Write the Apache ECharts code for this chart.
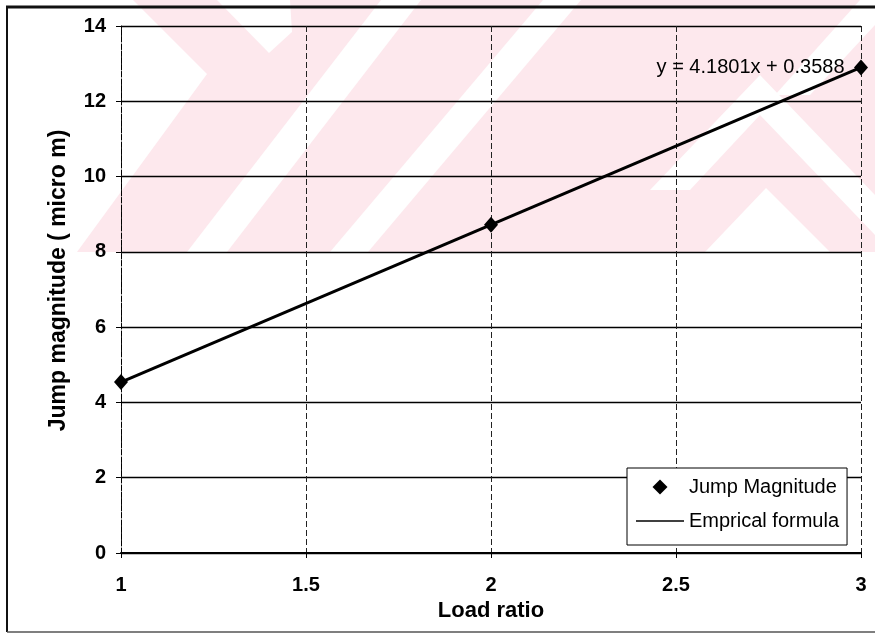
<!DOCTYPE html>
<html>
<head>
<meta charset="utf-8">
<title>Jump magnitude vs load ratio</title>
<script src="https://cdn.jsdelivr.net/npm/echarts@6/dist/echarts.min.js"></script>
<style>
  html, body { margin: 0; padding: 0; background: #ffffff; }
  #chart { width: 875px; height: 634px; }
</style>
</head>
<body>
<div id="chart"></div>
<script>
// Measured jump magnitude at each load ratio
const loadRatio = [1, 2, 3];
const jumpMagnitude = [4.54, 8.72, 12.9];

// End points of the empirical (linear fit) line
const fitX = [1, 3];
const fitY = [4.5389, 12.8991];
const fitLabel = 'y = 4.1801x + 0.3588';

// Axis ranges and tick steps
const xRange = [1, 3];
const xStep = 0.5;
const yRange = [0, 14];
const yStep = 2;

const seriesNames = ['Jump Magnitude', 'Emprical formula'];
const xTitle = 'Load ratio';
const yTitle = 'Jump magnitude ( micro m)';

const font = 'Arial, "Liberation Sans", Helvetica, sans-serif';
const ink = '#000000';
const pink = 'rgb(253,232,237)';

// background watermark pattern (pink field with white diagonal bands)
const wmPink = [[133,0],[875,0],[875,252],[77,252],[207,74]];
const wmWhite = [
  [[217,0],[290,0],[292,32],[269,53]],
  [[187,252],[227,252],[421,0],[381,0]],
  [[330,252],[368,252],[581,0],[543,0]],
  [[650,190],[760,75],[875,195],[875,235],[760,115],[690,190]],
  [[705,252],[766,188],[830,252]],
  [[775,95],[810,95],[875,25],[875,0],[860,0]]
];

const graphics = [
  { type: 'polygon', z: -10, silent: true, shape: { points: wmPink }, style: { fill: pink } }
].concat(wmWhite.map(p => ({
  type: 'polygon', z: -9, silent: true, shape: { points: p }, style: { fill: '#ffffff' }
}))).concat([
  // outer frame
  { type: 'line', z: 5, silent: true, shape: { x1: 6, y1: 7, x2: 875, y2: 7 }, style: { stroke: '#111', lineWidth: 3 } },
  { type: 'line', z: 5, silent: true, shape: { x1: 7, y1: 6, x2: 7, y2: 632 }, style: { stroke: '#111', lineWidth: 2 } },
  { type: 'line', z: 5, silent: true, shape: { x1: 7, y1: 632, x2: 875, y2: 632 }, style: { stroke: '#555', lineWidth: 1.5 } }
]);

// legend glyphs: a square-aspect diamond and a thin horizontal stroke
const diamondIcon = 'path://M0,-1L1,0L0,1L-1,0Z';
const strokeIcon = 'path://M0,0L48,0L48,1.6L0,1.6Z';

const chart = echarts.init(document.getElementById('chart'), null, { renderer: 'canvas' });

chart.setOption({
  backgroundColor: '#ffffff',
  animation: false,
  textStyle: { fontFamily: font, color: ink },
  graphic: graphics,
  grid: { left: 121, right: 14, top: 26, bottom: 81, containLabel: false },
  legend: {
    data: [
      { name: seriesNames[0], icon: diamondIcon },
      { name: seriesNames[1], icon: strokeIcon }
    ],
    orient: 'vertical',
    left: 627,
    top: 468,
    padding: [9, 8, 14, 9],
    itemGap: 14,
    itemWidth: 48,
    itemHeight: 15,
    symbolKeepAspect: true,
    backgroundColor: '#ffffff',
    borderColor: ink,
    borderWidth: 1,
    borderRadius: 0,
    itemStyle: { color: ink, borderWidth: 0, opacity: 1 },
    textStyle: { fontFamily: font, fontSize: 20, color: ink }
  },
  xAxis: {
    type: 'value',
    min: xRange[0],
    max: xRange[1],
    interval: xStep,
    name: xTitle,
    nameLocation: 'middle',
    nameGap: 46,
    nameTextStyle: { fontFamily: font, fontSize: 22, fontWeight: 'bold', color: ink },
    axisLine: { show: true, onZero: false, lineStyle: { color: ink, width: 2 } },
    axisTick: { show: true, length: 5, lineStyle: { color: ink, width: 1 } },
    axisLabel: { margin: 22, fontFamily: font, fontSize: 20, fontWeight: 'bold', color: ink },
    splitLine: { show: true, lineStyle: { color: '#222', width: 1, type: [6, 3] } }
  },
  yAxis: {
    type: 'value',
    min: yRange[0],
    max: yRange[1],
    interval: yStep,
    name: yTitle,
    nameLocation: 'middle',
    nameRotate: 90,
    nameGap: 51,
    nameTextStyle: { fontFamily: font, fontSize: 23, fontWeight: 'bold', color: ink, padding: [0, 0, 0, 18] },
    axisLine: { show: true, onZero: false, lineStyle: { color: ink, width: 1, type: [5, 2] } },
    axisTick: { show: true, length: 5, lineStyle: { color: ink, width: 1 } },
    axisLabel: { margin: 15, fontFamily: font, fontSize: 20, fontWeight: 'bold', color: ink },
    splitLine: { show: true, lineStyle: { color: ink, width: 1.3, type: 'solid' } }
  },
  series: [
    {
      name: seriesNames[0],
      type: 'scatter',
      z: 4,
      symbol: 'diamond',
      symbolSize: [14, 16],
      itemStyle: { color: ink, opacity: 1 },
      data: loadRatio.map((x, i) => [x, jumpMagnitude[i]])
    },
    {
      name: seriesNames[1],
      type: 'line',
      z: 3,
      symbol: 'none',
      lineStyle: { color: ink, width: 3 },
      itemStyle: { color: ink },
      data: fitX.map((x, i) => [x, fitY[i]]),
      markPoint: {
        symbol: 'circle',
        symbolSize: 1,
        itemStyle: { color: 'rgba(0,0,0,0)' },
        label: {
          show: true,
          position: 'left',
          distance: 16,
          formatter: fitLabel,
          fontFamily: font,
          fontSize: 20,
          color: ink
        },
        data: [{ coord: [fitX[1], fitY[1]] }]
      }
    }
  ]
});
</script>
</body>
</html>
